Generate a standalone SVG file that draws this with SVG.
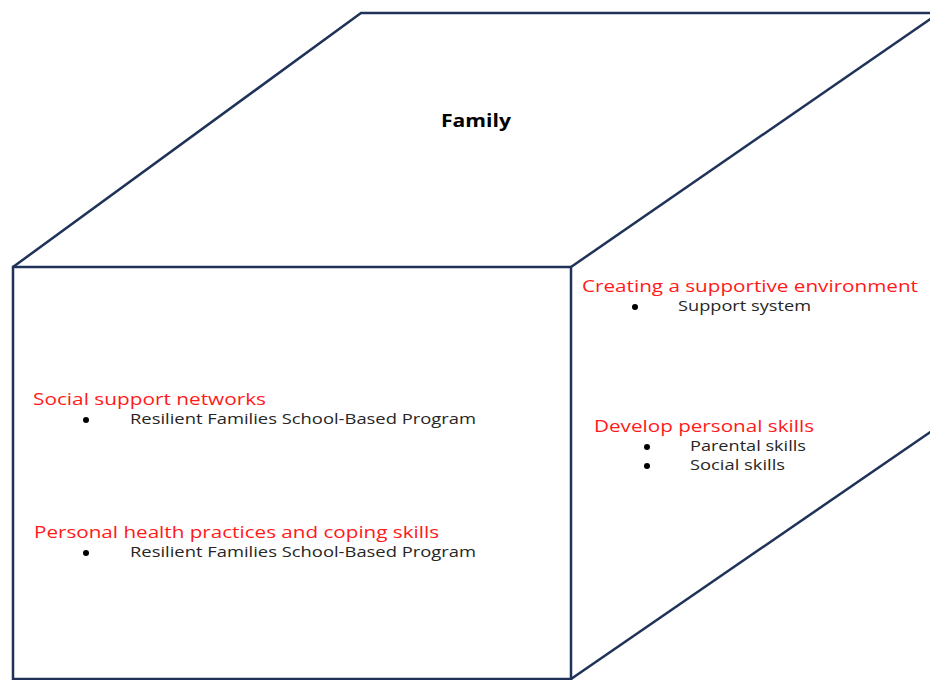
<svg xmlns="http://www.w3.org/2000/svg" width="930" height="680" viewBox="0 0 930 680">
<style>
.edge{fill:none;stroke:#1f3358;stroke-width:2.5;stroke-linejoin:miter}
.head{font-family:"Open Sans","Liberation Sans",sans-serif;font-size:17px;fill:#ff1a1a}
.item{font-family:"Open Sans","Liberation Sans",sans-serif;font-size:14.5px;fill:#262626}
.title{font-family:"Open Sans","Liberation Sans",sans-serif;font-size:17px;font-weight:bold;fill:#000}
.dot{fill:#000}
</style>
<rect width="930" height="680" fill="#fff"/>
<g id="connectors">
<path class="edge" d="M13,267 L361,13 L942,13"/>
<path class="edge" d="M571,267 L942,11"/>
<path class="edge" d="M571,679 L942,424"/>
</g>
<g id="top-face">
<text class="title" x="476" y="127" text-anchor="middle" textLength="70" lengthAdjust="spacingAndGlyphs">Family</text>
</g>
<g id="front-face">
<rect class="edge" x="13" y="267" width="558" height="412"/>
<text class="head" x="33" y="405" textLength="233" lengthAdjust="spacingAndGlyphs">Social support networks</text>
<circle class="dot" cx="86" cy="420" r="3"/>
<text class="item" x="130" y="424" textLength="346" lengthAdjust="spacingAndGlyphs">Resilient Families School-Based Program</text>
<text class="head" x="34" y="538" textLength="405" lengthAdjust="spacingAndGlyphs">Personal health practices and coping skills</text>
<circle class="dot" cx="86" cy="553" r="3"/>
<text class="item" x="130" y="557" textLength="346" lengthAdjust="spacingAndGlyphs">Resilient Families School-Based Program</text>
</g>
<g id="right-face">
<text class="head" x="582" y="292" textLength="336" lengthAdjust="spacingAndGlyphs">Creating a supportive environment</text>
<circle class="dot" cx="635" cy="307" r="3"/>
<text class="item" x="678" y="311" textLength="133" lengthAdjust="spacingAndGlyphs">Support system</text>
<text class="head" x="594" y="432" textLength="220" lengthAdjust="spacingAndGlyphs">Develop personal skills</text>
<circle class="dot" cx="647" cy="447" r="3"/>
<text class="item" x="690" y="451" textLength="116" lengthAdjust="spacingAndGlyphs">Parental skills</text>
<circle class="dot" cx="647" cy="466" r="3"/>
<text class="item" x="690" y="470" textLength="95" lengthAdjust="spacingAndGlyphs">Social skills</text>
</g>
</svg>
